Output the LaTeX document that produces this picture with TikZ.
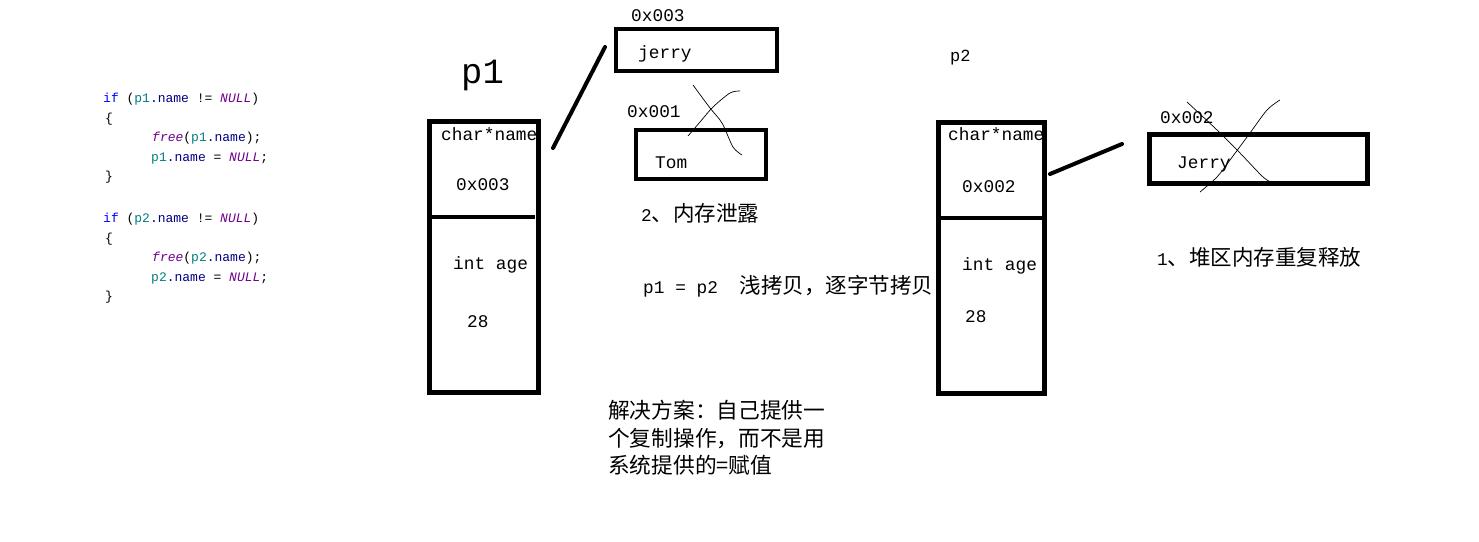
\documentclass[tikz,border=0pt]{standalone}
\usepackage{fontspec}
\setmainfont{Liberation Serif}
\setmonofont{Liberation Mono}
\newfontfamily\cjk{Noto Sans CJK SC}
\usetikzlibrary{positioning}

\definecolor{kwblue}{RGB}{0,0,255}
\definecolor{varteal}{RGB}{0,128,128}
\definecolor{memnavy}{RGB}{0,0,128}
\definecolor{nullpurple}{RGB}{111,0,138}

\newcommand{\codevar}[1]{\textcolor{varteal}{#1}}
\newcommand{\codemem}[1]{\textcolor{memnavy}{#1}}
\newcommand{\codenull}{\textcolor{nullpurple}{\textit{NULL}}}
\newcommand{\codefree}{\textcolor{nullpurple}{\textit{free}}}
\newcommand{\lat}[1]{{\ttfamily\fontsize{17.8}{20}\selectfont #1}}

\begin{document}
\begin{tikzpicture}[x=1pt, y=-1pt,
    membox/.style={draw, line width=4.5pt, inner sep=0pt},
    pointer/.style={line width=4pt, line cap=round},
    txt/.style={anchor=base west, inner sep=0pt, font=\ttfamily\fontsize{17.8}{20}\selectfont},
    cn/.style={anchor=base west, inner sep=0pt, font=\cjk\fontsize{21.5}{24}\selectfont},
    codeline/.style={anchor=base west, inner sep=0pt, font=\ttfamily\fontsize{13}{15}\selectfont},
    scribble/.style={line width=0.7pt}]
    \useasboundingbox (0,0) rectangle (1479,541);

    % code on the left
    \node[codeline] (c1) at (103,102) {\textcolor{kwblue}{if} (\codevar{p1}\codemem{.name} != \codenull)};
    \node[codeline] (c2) at (105,122) {\{};
    \node[codeline] (c3) at (152,141) {\codefree(\codevar{p1}\codemem{.name});};
    \node[codeline] (c4) at (151,161) {\codevar{p1}\codemem{.name} = \codenull;};
    \node[codeline] (c5) at (105,180) {\}};

    \node[codeline] (c6) at (103,222) {\textcolor{kwblue}{if} (\codevar{p2}\codemem{.name} != \codenull)};
    \node[codeline] (c7) at (105,242) {\{};
    \node[codeline] (c8) at (152,261) {\codefree(\codevar{p2}\codemem{.name});};
    \node[codeline] (c9) at (151,281) {\codevar{p2}\codemem{.name} = \codenull;};
    \node[codeline] (c10) at (105,300) {\}};

    % p1
    \node[txt, font=\ttfamily\fontsize{35.5}{38}\selectfont] (p1lbl) at (461,83) {p1};
    \node[membox, minimum width=109pt, minimum height=271pt] (p1box) at (484,257) {};
    \draw[line width=4.5pt] (430,217) -- (535,217);
    \node[txt] (p1name) at (441,140) {char*name};
    \node[txt] (p1addr) at (456,190) {0x003};
    \node[txt] (p1age) at (453,269) {int age};
    \node[txt] (p1val) at (467,327) {28};

    % heap blocks of p1
    \node[txt] (addr3) at (631,21) {0x003};
    \node[membox, line width=4pt, minimum width=161pt, minimum height=42pt] (jerrybox) at (696.5,50) {};
    \node[txt] (jerry) at (638,58) {jerry};
    \node[txt] (addr1) at (627,117) {0x001};
    \node[membox, line width=4pt, minimum width=130pt, minimum height=49pt] (tombox) at (701,154.5) {};
    \node[txt] (tom) at (655,168) {Tom};
    \draw[scribble] plot[smooth] coordinates {(693,85) (710,108) (722,123) (733,147) (742,155)};
    \draw[scribble] plot[smooth] coordinates {(740,91) (730,93) (713,107) (700,122) (688,136)};

    \coordinate (p1ptr) at (553,148);
    \coordinate (jerryend) at (605,47);
    \draw[pointer] (p1ptr) -- (jerryend);

    % notes
    \node[cn] (leak) at (641,221) {\lat{2}、内存泄露};
    \node[cn] (shallow) at (643,293) {\lat{p1 = p2}\hspace{22pt}浅拷贝，逐字节拷贝};
    \node[cn, font=\cjk\fontsize{21.7}{24}\selectfont] (sol1) at (608,418) {解决方案：自己提供一};
    \node[cn, font=\cjk\fontsize{21.7}{24}\selectfont] (sol2) at (608,446) {个复制操作，而不是用};
    \node[cn, font=\cjk\fontsize{21.7}{24}\selectfont] (sol3) at (608,473) {系统提供的=赋值};

    % p2
    \node[txt, font=\ttfamily\fontsize{17}{20}\selectfont] (p2lbl) at (950,61) {p2};
    \node[membox, minimum width=106pt, minimum height=271pt] (p2box) at (991.5,258) {};
    \draw[line width=4.5pt] (938,218) -- (1042,218);
    \node[txt] (p2name) at (948,140) {char*name};
    \node[txt] (p2addr) at (962,192) {0x002};
    \node[txt] (p2age) at (962,270) {int age};
    \node[txt] (p2val) at (965,322) {28};

    % heap block of p2
    \node[txt] (addr2) at (1160,123) {0x002};
    \node[membox, minimum width=218pt, minimum height=49pt] (jerrybox2) at (1258.5,159) {};
    \node[txt] (jerry2) at (1177,168) {Jerry};
    \draw[scribble] plot[smooth] coordinates {(1187,102) (1217,130) (1240,153) (1263,177) (1273,183)};
    \draw[scribble] plot[smooth] coordinates {(1280,100) (1267,110) (1250,133) (1230,160) (1217,177) (1200,192)};

    \coordinate (p2ptr) at (1050,174);
    \coordinate (jerry2end) at (1122,144);
    \draw[pointer] (p2ptr) -- (jerry2end);

    \node[cn] (twice) at (1157,265) {\lat{1}、堆区内存重复释放};
\end{tikzpicture}
\end{document}
